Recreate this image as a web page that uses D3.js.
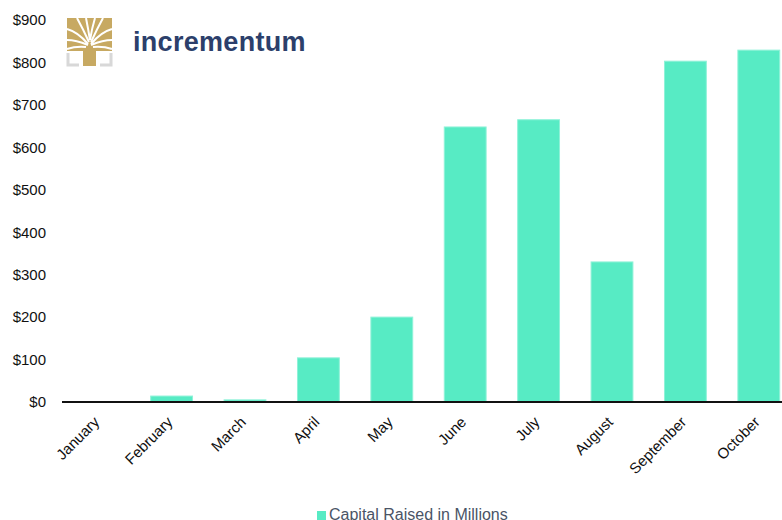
<!DOCTYPE html>
<html><head><meta charset="utf-8">
<script src="https://cdn.jsdelivr.net/npm/d3@7"></script>
<style>html,body{margin:0;padding:0;background:#fff;overflow:hidden}svg{display:block}</style>
</head><body>
<script>
const months = ["January","February","March","April","May","June","July","August","September","October"];
const capitalRaised = [0.5, 14, 5, 104, 200, 648, 665, 330, 803, 829];
const yTicks = [0,100,200,300,400,500,600,700,800,900];
const seriesName = "Capital Raised in Millions";

const W = 782, H = 520;
const svg = d3.select("body").append("svg").attr("width", W).attr("height", H);
const font = "'Liberation Sans', Arial, Helvetica, sans-serif";

const y = d3.scaleLinear().domain([0, 900]).range([402, 20]);
const x = d3.scaleBand().domain(months).range([61.5, 795.5]).paddingInner(0.43).paddingOuter(0.215);

// y axis labels
const yAxis = d3.axisLeft(y).tickValues(yTicks).tickFormat(d => "$" + d).tickSize(0).tickPadding(0);
const gy = svg.append("g").attr("transform", "translate(46,0)").call(yAxis);
gy.select(".domain").remove();
gy.selectAll("text").attr("font-family", font).attr("font-size", 15).attr("fill", "#111");

// bars
svg.append("g").selectAll("rect").data(months).join("rect")
  .attr("x", d => x(d))
  .attr("width", x.bandwidth())
  .attr("y", (d, i) => y(capitalRaised[i]))
  .attr("height", (d, i) => y(0) - y(capitalRaised[i]))
  .attr("fill", "#57ebc4")
  .attr("stroke", "#8ff2d8").attr("stroke-width", 1);

// x axis
const xAxis = d3.axisBottom(x).tickSize(0).tickPadding(0);
const gx = svg.append("g").attr("transform", "translate(0,402)").call(xAxis);
gx.select(".domain").remove();
svg.append("line").attr("x1", 62).attr("x2", 782).attr("y1", 402).attr("y2", 402)
  .attr("stroke", "#111").attr("stroke-width", 2);
gx.selectAll(".tick text")
  .attr("font-family", font).attr("font-size", 15).attr("fill", "#111")
  .attr("text-anchor", "end").attr("dy", null).attr("y", 0)
  .attr("transform", "translate(2,21) rotate(-45)");

// legend
const lg = svg.append("g").attr("transform", "translate(317,511)");
lg.append("rect").attr("width", 9).attr("height", 9).attr("fill", "#57ebc4");
lg.append("text").attr("x", 12).attr("y", 9).text(seriesName)
  .attr("font-family", font).attr("font-size", 16).attr("fill", "#4a5466");

// logo
const logo = svg.append("g");
const gold = "#c7a962";
logo.append("rect").attr("x", 67).attr("y", 18).attr("width", 45).attr("height", 33).attr("fill", gold);
logo.append("rect").attr("x", 83).attr("y", 45).attr("width", 13).attr("height", 21).attr("fill", gold);
const gaps = [
  "M88,44 Q78,32 67,29", "M88,45 Q76,40 67,40", "M89,42 Q83,29 77,18",
  "M90,40 Q88,28 86,18", "M90,40 Q92,28 95,18", "M91,42 Q97,29 103,18",
  "M91,44 Q101,32 112,29", "M91,45 Q103,40 112,40", "M86,47 Q76,46 67,49", "M93,47 Q103,46 112,49"
];
logo.selectAll("path.gap").data(gaps).join("path").attr("class", "gap").attr("d", d => d)
  .attr("fill", "none").attr("stroke", "#fff").attr("stroke-width", 2);
logo.append("path").attr("d", "M68,53 V65 H79 M111,53 V65 H100").attr("fill", "none")
  .attr("stroke", "#d8d8d8").attr("stroke-width", 3);
logo.append("text").attr("x", 133).attr("y", 51).text("incrementum")
  .attr("font-family", font).attr("font-weight", 700)
  .attr("font-size", 27).attr("fill", "#2c3f6b").attr("letter-spacing", 0.3);
</script>
</body></html>
